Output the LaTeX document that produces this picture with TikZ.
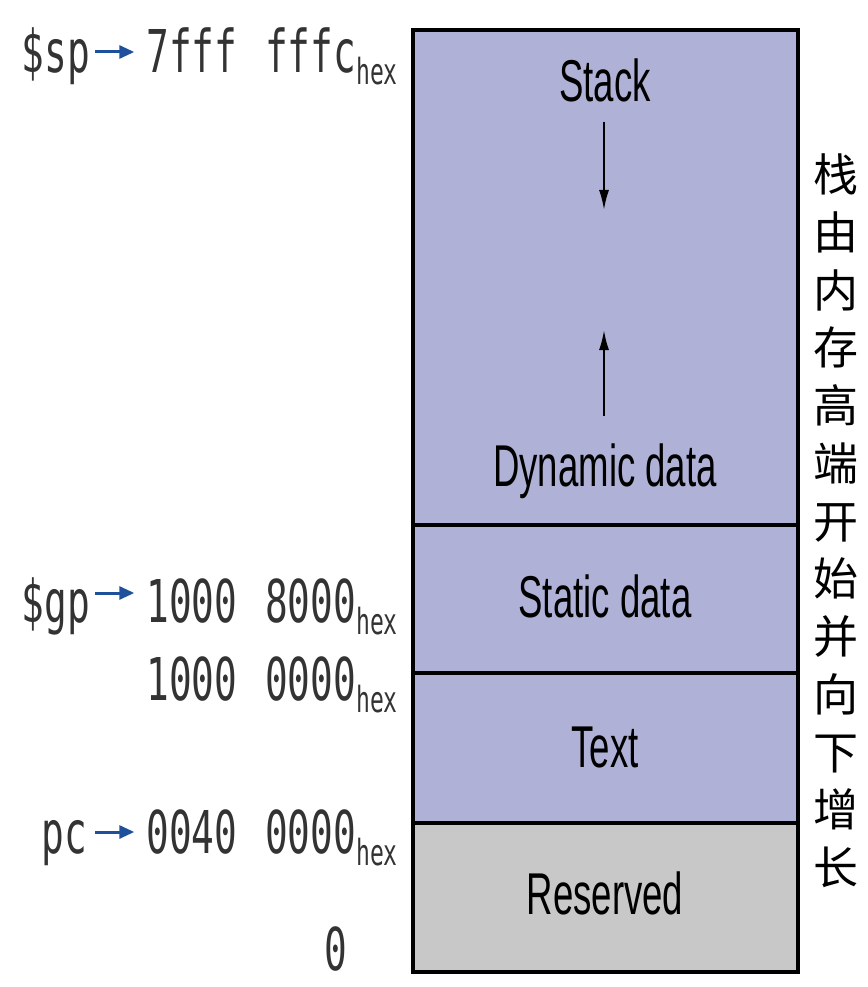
\documentclass[tikz,border=0pt]{standalone}
\usepackage{fontspec}
\usepackage{graphicx}
\setmainfont{Liberation Sans}
\newfontfamily\monof{DejaVu Sans Mono}
\newfontfamily\cjk{Noto Sans CJK SC}
\usetikzlibrary{arrows.meta,calc}
\definecolor{lav}{RGB}{175,178,214}
\definecolor{resgray}{RGB}{200,200,200}
\definecolor{arrblue}{RGB}{30,80,155}
\newcommand\addr[1]{\scalebox{0.64}[1]{\monof\fontsize{59}{59}\selectfont #1}}
\newcommand\hexs{\raisebox{-12pt}{\fontsize{36}{36}\selectfont hex}}
\newcommand\gap{\hspace{8pt} }
\newcommand\boxlab[1]{\scalebox{0.62}[1]{\fontsize{59}{59}\selectfont #1}}
\tikzset{
  region/.style={draw=black, line width=3.5pt, minimum width=385pt, inner sep=0pt},
  lab/.style={inner sep=0pt, anchor=base},
  addrlab/.style={inner sep=0pt, anchor=base east, text=black!80},
  barrow/.style={draw=arrblue, line width=3pt, -{Triangle[length=15pt,width=13pt]}},
  karrow/.style={draw=black, line width=2pt, -{Latex[length=20pt,width=10pt]}}
}
\begin{document}
\begin{tikzpicture}[x=1pt,y=-1pt]
\useasboundingbox (0,0) rectangle (867,987);
% memory regions
\node[region, fill=lav, minimum height=495pt] (stackreg) at (605.5,277.5) {};
\node[region, fill=lav, minimum height=148pt] (staticreg) at (605.5,599) {};
\node[region, fill=lav, minimum height=150pt] (textreg) at (605.5,748) {};
\node[region, fill=resgray, minimum height=149pt] (resreg) at (605.5,897.5) {};
% region labels
\node[lab] (stack) at (605,102) {\boxlab{Stack}};
\node[lab] (dyn) at (605,486) {\boxlab{Dynamic data}};
\node[lab] (static) at (605,617) {\boxlab{Static data}};
\node[lab] (text) at (605,767) {\boxlab{Text}};
\node[lab] (res) at (605,914) {\boxlab{Reserved}};
% growth arrows
\coordinate (d1) at (604,122);
\coordinate (d2) at (604,210);
\coordinate (u1) at (604,416);
\coordinate (u2) at (604,330);
\draw[karrow] (d1) -- (d2);
\draw[karrow] (u1) -- (u2);
% addresses
\node[addrlab] (spn) at (398,73) {\addr{7fff\gap fffc\hexs}};
\node[addrlab] (sp) at (90,73) {\addr{\$sp}};
\node[addrlab] (gpn) at (398,622) {\addr{1000\gap 8000\hexs}};
\node[addrlab] (gp) at (90,622) {\addr{\$gp}};
\node[addrlab] (tn) at (398,700) {\addr{1000\gap 0000\hexs}};
\node[addrlab] (pcn) at (398,853) {\addr{0040\gap 0000\hexs}};
\node[addrlab] (pc) at (87,853) {\addr{pc}};
\node[addrlab] (zero) at (347,970) {\addr{0}};
\draw[barrow] ($(sp.base east)+(5,-21)$) -- ($(spn.base west)+(-12,-21)$);
\draw[barrow] ($(gp.base east)+(5,-29)$) -- ($(gpn.base west)+(-12,-29)$);
\draw[barrow] ($(pc.base east)+(8,-21)$) -- ($(pcn.base west)+(-12,-21)$);
% side note
\node[inner sep=0pt, align=center, font=\cjk\fontsize{45}{57.75}\selectfont] (note) at (836,521)
  {栈\\由\\内\\存\\高\\端\\开\\始\\并\\向\\下\\增\\长};
\end{tikzpicture}
\end{document}
